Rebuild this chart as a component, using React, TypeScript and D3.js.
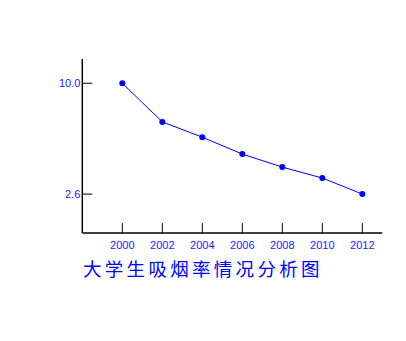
import React from "react";
import * as d3 from "d3";

const years = [2000, 2002, 2004, 2006, 2008, 2010, 2012];
const rates = [10.0, 7.42, 6.4, 5.27, 4.4, 3.67, 2.6];
const yTicks = [10.0, 2.6];
const title = "大学生吸烟率情况分析图";

export default function App() {
  const W = 406, H = 341;
  const x = d3.scaleLinear().domain([1998, 2013]).range([82.3, 382.3]);
  const y = d3.scaleLinear().domain([0, 11.62]).range([233, 59]);
  const line = d3.line<number>().x((_, i) => x(years[i])).y((d) => y(d));
  const font = "'Liberation Sans', Arial, sans-serif";
  const col = "#1a1aff";
  return (
    <svg width={W} height={H} style={{ position: "absolute", left: 0, top: 0, background: "#fff" }}>
      <line x1={x(1998)} x2={x(1998)} y1={y(11.62)} y2={y(0)} stroke="#000" strokeWidth={1.5} />
      <line x1={x(1998)} x2={x(2013)} y1={y(0)} y2={y(0)} stroke="#000" strokeWidth={1.5} />
      {yTicks.map((t) => (
        <g key={t}>
          <line x1={x(1998)} x2={x(1998) + 10} y1={y(t)} y2={y(t)} stroke="#000" strokeWidth={1} />
          <text x={x(1998) - 2} y={y(t)} dy="0.35em" textAnchor="end" fontSize={11} fontFamily={font} fill={col}>
            {t.toFixed(1)}
          </text>
        </g>
      ))}
      {years.map((yr) => (
        <g key={yr}>
          <line x1={x(yr)} x2={x(yr)} y1={y(0)} y2={y(0) - 10} stroke="#000" strokeWidth={1} />
          <text x={x(yr)} y={y(0) + 12.5} dy="0.35em" textAnchor="middle" fontSize={11} fontFamily={font} fill={col}>
            {yr}
          </text>
        </g>
      ))}
      <path d={line(rates) || ""} fill="none" stroke="#0000ff" strokeWidth={1} />
      {rates.map((r, i) => (
        <circle key={i} cx={x(years[i])} cy={y(r)} r={3} fill="#0000ff" />
      ))}
      <text x={83} y={270} dy="0.35em" fontSize={18.5} letterSpacing={3.3} fontFamily="'Noto Sans CJK SC', sans-serif" fill="#0000ff">
        {title}
      </text>
    </svg>
  );
}
